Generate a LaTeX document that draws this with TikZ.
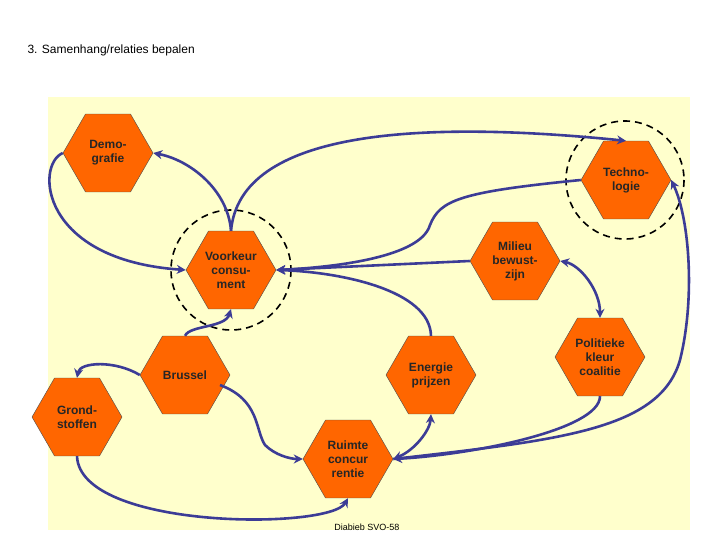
\documentclass[tikz,border=0pt]{standalone}
\usepackage{fontspec}
\setmainfont{Liberation Sans}
\usetikzlibrary{shapes.geometric,arrows.meta}
\definecolor{hexor}{RGB}{255,102,0}
\definecolor{navy}{RGB}{60,60,150}
\definecolor{paleY}{RGB}{255,255,204}
\begin{document}
\begin{tikzpicture}[x=1pt,y=-1pt,
 hex/.style={regular polygon,regular polygon sides=6,minimum size=90pt,inner sep=0pt,fill=hexor,draw=black!70,line width=0.4pt,font=\bfseries\fontsize{12}{14}\selectfont,align=center,text=black!85},
 con/.style={draw=navy,line width=2.6pt,-{Stealth[length=9pt,width=9pt]}},
 bi/.style={con,{Stealth[length=9pt,width=9pt]}-{Stealth[length=9pt,width=9pt]}},
 dc/.style={draw=black,line width=1.6pt,dash pattern=on 7pt off 5pt}]
\useasboundingbox (0,0) rectangle (720,540);
\fill[white] (0,0) rectangle (720,540);
\fill[paleY] (48,97) rectangle (690,530);
\node[anchor=west,font=\fontsize{12}{14}\selectfont] (title) at (24,50) {3. Samenhang/relaties bepalen};
\node[font=\fontsize{9}{11}\selectfont] (foot) at (367,527) {Diabieb SVO-58};
\draw[dc] (231,270) circle (60);
\draw[dc] (625,180) circle (59);
\node[hex] (dem) at (108,153) {Demo-\\grafie};
\node[hex] (tec) at (626,180) {Techno-\\logie};
\node[hex] (voo) at (231,270) {Voorkeur\\consu-\\ment};
\node[hex] (mil) at (515,261) {Milieu\\bewust-\\zijn};
\node[hex] (pol) at (600,357) {Politieke\\kleur\\coalitie};
\node[hex] (ene) at (431,375) {Energie\\prijzen};
\node[hex] (bru) at (185,375) {Brussel};
\node[hex] (gro) at (77,417) {Grond-\\stoffen};
\node[hex] (rui) at (348,459) {Ruimte\\concur\\rentie};
\draw[con] (voo.north) .. controls (228,190) and (190,160) .. (dem.east);
\draw[con] (dem.west) .. controls (35,165) and (40,260) .. (voo.west);
\draw[con] (voo.north) .. controls (240,130) and (420,120) .. (tec.north);
\draw[con] (tec.west) .. controls (460,192) and (440,200) .. (430,225) .. controls (420,260) and (320,268) .. (voo.east);
\draw[con] (mil.west) -- (voo.east);
\draw[con] (ene.north) .. controls (430,290) and (340,272) .. (voo.east);
\draw[bi] (mil.east) .. controls (580,265) and (600,290) .. (pol.north);
\draw[con] (bru.north) .. controls (190,325) and (225,328) .. (voo.south);
\draw[con] (bru.west) .. controls (115,360) and (80,362) .. (gro.north);
\draw[con] (220,385) .. controls (260,400) and (255,430) .. (265,445) .. controls (275,455) and (290,459) .. (rui.west);
\draw[con] (gro.south) .. controls (80,530) and (330,530) .. (rui.south);
\draw[bi] (rui.east) .. controls (415,450) and (430,430) .. (ene.south);
\draw[con] (pol.south) .. controls (600,430) and (470,455) .. (rui.east);
\draw[con] (rui.east) .. controls (560,440) and (660,430) .. (680,360) .. controls (695,300) and (690,220) .. (tec.east);
\end{tikzpicture}
\end{document}
